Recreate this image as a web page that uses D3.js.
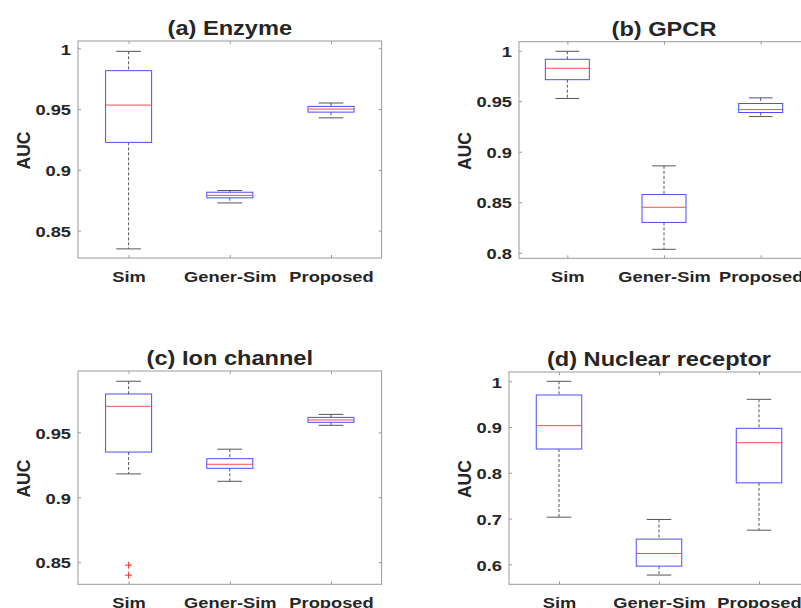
<!DOCTYPE html>
<meta charset="utf-8">

<style>
body{
	background-color: #fff;
	margin: 0px;
}

text{
	font-family: "Liberation Sans", Arial, sans-serif;
	font-weight: bold;
	fill: #262626;
}

</style>

<body></body>

<script src="https://cdn.jsdelivr.net/npm/d3@7"></script>

<script>

// box stats: [lower whisker, q1, median, q3, upper whisker]
var categories = ['Sim', 'Gener-Sim', 'Proposed']

var titles = ['(a) Enzyme', '(b) GPCR', '(c) Ion channel', '(d) Nuclear receptor']

var enzyme = [
	[0.835, 0.9226, 0.9533, 0.9816, 0.9975],
	[0.8728, 0.877, 0.879, 0.8816, 0.883],
	[0.9428, 0.9475, 0.950, 0.9522, 0.955]
]

var gpcr = [
	[0.9527, 0.9713, 0.9826, 0.9915, 0.9994],
	[0.8034, 0.830, 0.845, 0.8576, 0.886],
	[0.9348, 0.9388, 0.9417, 0.9477, 0.9533]
]

var ionChannel = [
	[0.918, 0.9348, 0.970, 0.9795, 0.9893],
	[0.9123, 0.9223, 0.9254, 0.9297, 0.937],
	[0.9554, 0.9577, 0.9595, 0.9615, 0.9638]
]

var nuclearReceptor = [
	[0.703, 0.852, 0.903, 0.970, 1.0],
	[0.5765, 0.596, 0.6236, 0.655, 0.698],
	[0.6746, 0.778, 0.8658, 0.8972, 0.9606]
]

// outliers per category
var ionOutliers = [[0.8477, 0.840], [], []]

var yTicks = [
	[0.85, 0.9, 0.95, 1],
	[0.8, 0.85, 0.9, 0.95, 1],
	[0.85, 0.9, 0.95],
	[0.6, 0.7, 0.8, 0.9, 1]
]

var yDomains = [
	[0.8275, 1.006],
	[0.7945, 1.0089],
	[0.833, 0.9972],
	[0.5563, 1.0203]
]

var panels = [
	{stats: enzyme, out: [[], [], []], box: [78, 381.6, 41, 258]},
	{stats: gpcr, out: [[], [], []], box: [519, 809, 41.7, 258.3]},
	{stats: ionChannel, out: ionOutliers, box: [78, 381.6, 371, 584.3]},
	{stats: nuclearReceptor, out: [[], [], []], box: [509, 809, 372, 584.3]}
]

var width = 801,
		height = 608,
		stretch = 1.18   // the figure's text is drawn wide

var svg = d3.select('body')
	.append('svg')
		.attr('width', width)
		.attr('height', height)
		.style('display', 'block')

panels.forEach(function(p, k){
	var x0 = p.box[0], x1 = p.box[1], y0 = p.box[2], y1 = p.box[3]

	var x = d3.scaleLinear().domain([0.5, 3.5]).range([x0, x1])
	var y = d3.scaleLinear().domain(yDomains[k]).range([y1, y0])
	var unit = x(1) - x(0)

	var g = svg.append('g')

	// frame
	g.append('rect')
			.attr('x', x0).attr('y', y0)
			.attr('width', x1 - x0).attr('height', y1 - y0)
			.attr('fill', 'none')
			.attr('stroke', '#9a9a9a')
			.attr('stroke-width', 1)

	var fmt = function(d){ return String(+d.toFixed(2)) }

	var left = d3.axisLeft(y).tickValues(yTicks[k]).tickSizeInner(-3).tickSizeOuter(0).tickPadding(7).tickFormat(fmt)
	var right = d3.axisRight(y).tickValues(yTicks[k]).tickSizeInner(-3).tickSizeOuter(0).tickFormat('')
	var bottom = d3.axisBottom(x).tickValues([1, 2, 3]).tickSizeInner(-3).tickSizeOuter(0).tickPadding(13)
		.tickFormat(function(d){ return categories[d - 1] })
	var top = d3.axisTop(x).tickValues([1, 2, 3]).tickSizeInner(-3).tickSizeOuter(0).tickFormat('')

	var ga = g.append('g').attr('transform', 'translate(' + x0 + ',0)').call(left)
	g.append('g').attr('transform', 'translate(' + x1 + ',0)').call(right)
	var gb = g.append('g').attr('transform', 'translate(0,' + y1 + ')').call(bottom)
	g.append('g').attr('transform', 'translate(0,' + y0 + ')').call(top)

	g.selectAll('.domain').remove()
	g.selectAll('.tick line').attr('stroke', '#9a9a9a')
	g.selectAll('.tick text')
			.attr('font-family', '"Liberation Sans", Arial, sans-serif')
			.attr('font-size', 15.5)
			.attr('font-weight', 'bold')
			.attr('fill', '#262626')
	ga.selectAll('.tick text')
			.attr('dy', '0.37em')
			.attr('x', 0)
			.attr('transform', 'translate(-7,0) scale(' + stretch + ',1)')
	gb.selectAll('.tick text')
			.attr('transform', 'scale(' + stretch + ',1)')

	// title
	g.append('text')
			.attr('transform', 'translate(' + ((x0 + x1) / 2) + ',' + (y0 - 6) + ') scale(' + stretch + ',1)')
			.attr('text-anchor', 'middle')
			.attr('font-size', 20)
			.attr('fill', '#000')
			.text(titles[k])

	// y label
	var lx = k % 2 == 0 ? 29.5 : 471
	g.append('text')
			.attr('transform', 'translate(' + lx + ',' + ((y0 + y1) / 2 + 1) + ') rotate(-90)')
			.attr('text-anchor', 'middle')
			.attr('font-size', 17.5)
			.text('AUC')

	// boxes
	p.stats.forEach(function(s, i){
		var cx = x(i + 1),
				bw = unit * 0.455,
				cw = unit * 0.245

		// whiskers
		g.append('line')
				.attr('x1', cx).attr('x2', cx)
				.attr('y1', y(s[4])).attr('y2', y(s[3]))
				.attr('stroke', '#555').attr('stroke-dasharray', '3,2')
		g.append('line')
				.attr('x1', cx).attr('x2', cx)
				.attr('y1', y(s[1])).attr('y2', y(s[0]))
				.attr('stroke', '#555').attr('stroke-dasharray', '3,2')

		// caps
		;[s[0], s[4]].forEach(function(v){
			g.append('line')
					.attr('x1', cx - cw / 2).attr('x2', cx + cw / 2)
					.attr('y1', y(v)).attr('y2', y(v))
					.attr('stroke', '#555')
		})

		g.append('rect')
				.attr('x', cx - bw / 2)
				.attr('y', y(s[3]))
				.attr('width', bw)
				.attr('height', y(s[1]) - y(s[3]))
				.attr('fill', 'none')
				.attr('stroke', '#4b4bff')

		g.append('line')
				.attr('x1', cx - bw / 2).attr('x2', cx + bw / 2)
				.attr('y1', y(s[2])).attr('y2', y(s[2]))
				.attr('stroke', '#f05050')

		p.out[i].forEach(function(v){
			var py = y(v)
			g.append('path')
					.attr('d', 'M' + (cx - 3.5) + ',' + py + 'H' + (cx + 3.5) + 'M' + cx + ',' + (py - 3.5) + 'V' + (py + 3.5))
					.attr('stroke', '#ff2a2a')
					.attr('fill', 'none')
		})
	})
})

</script>
